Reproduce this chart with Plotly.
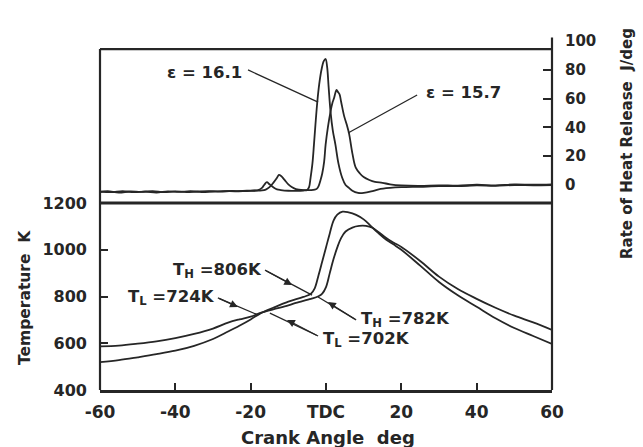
import plotly.graph_objects as go

# ---------------- data ----------------
# Rate of heat release (J/deg), eps = 16.1
hr_angle_161 = [-60, -57, -54, -51, -48, -45, -42, -39, -36, -33, -30, -27, -24, -21, -19, -18, -17,
                -16.3, -15.7, -15, -14, -13, -12, -10, -8, -6, -5, -4.5, -4.1, -3.6, -3.2, -2.8,
                -2.3, -1.8, -1.2, -0.6, -0.1, 0.3, 0.7, 1.2, 1.8, 2.5, 3.3, 4.3, 5.2, 6.1, 7, 8.5,
                10, 12, 14, 17, 20, 25, 30, 35, 40, 45, 50, 55, 60]
hr_161 = [-4.5, -5, -4.2, -5, -4.6, -5.2, -4.4, -4.8, -4.3, -4.9, -4.5, -4.2, -4.4, -4, -3.8, -3.5, -2,
          0.5, 2, 0.5, -1.5, -3, -3.5, -4, -4, -3.8, -3.5, -1.5, 5, 15, 28, 42,
          58, 70, 80, 86, 87.5, 82, 68, 51, 38, 28, 15, 5, 0, -2, -4, -5.5,
          -5.5, -4.5, -3, -2, -1.5, -1.2, -0.8, -0.8, -0.3, -0.6, 0, -0.2, 0]

# Rate of heat release (J/deg), eps = 15.7
hr_angle_157 = [-60, -58, -55, -52, -49, -46, -43, -40, -37, -34, -31, -28, -25, -22, -19, -17, -16,
                -15, -14, -13, -12.5, -12, -11, -10, -9, -8, -6, -4, -3, -2.4, -2, -1.5, -1, -0.5,
                -0.1, 0.5, 1.2, 1.7, 2.1, 2.5, 2.8, 3.2, 3.6, 4, 4.8, 5.5, 6.1, 7, 7.9, 9, 10,
                11.5, 13, 15, 17, 20, 25, 30, 35, 40, 45, 50, 55, 60]
hr_157 = [-5, -4.3, -5.2, -4.5, -4.8, -4.2, -5, -4.4, -4.9, -4.5, -4.3, -4.6, -4.1, -4.3, -4, -3.8, -3.2,
          -1.5, 1.5, 5, 7, 6.5, 3.5, 0.5, -1.5, -2.8, -3.5, -3.5, -3.2, -2.5, -1, 3, 8, 16,
          28, 40, 51, 57, 60, 64, 66, 64.5, 63, 58, 48, 42, 36, 22, 12, 8, 5.5,
          3.5, 2.2, 1.5, 0.5, -0.3, -0.6, -0.2, -0.5, 0.2, -0.3, 0.4, 0.2, 0.5]

# Temperature (K), eps = 16.1
t_angle_161 = [-60, -55, -50, -45, -40, -35, -30, -26, -23, -20, -17.4, -14, -10, -6, -4, -3, -2, -1,
               0, 1, 2, 3, 4.4, 6, 8, 10, 12, 14, 16, 18, 20, 25, 30, 35, 40, 45, 50, 55, 60]
temp_161 = [519, 528, 540, 553, 568, 589, 618, 650, 675, 702, 728, 752, 778, 798, 812, 835, 890, 950,
            1010, 1070, 1125, 1150, 1163, 1160, 1149, 1130, 1100, 1070, 1043, 1022, 1000, 932, 862,
            805, 756, 707, 665, 631, 597]

# Temperature (K), eps = 15.7
t_angle_157 = [-60, -55, -50, -45, -40, -35, -30, -26, -23, -20, -17.4, -14, -10, -8, -4, -2, -1,
               0, 1, 2, 3, 4, 5.2, 7, 8.8, 10.6, 12.3, 14, 16, 18, 20, 25, 30, 35, 40, 45, 50, 55, 60]
temp_157 = [587, 590, 598, 608, 622, 640, 663, 688, 702, 714, 730, 745, 762, 773, 790, 801, 812,
            840, 900, 960, 1010, 1050, 1078, 1095, 1102, 1102, 1094, 1075, 1050, 1030, 1012, 952, 885,
            832, 790, 752, 718, 689, 657]

x_tickvals = [-60, -40, -20, 0, 20, 40, 60]
x_ticktext = ["-60", "-40", "-20", "TDC", "20", "40", "60"]
t_tickvals = [400, 600, 800, 1000, 1200]
hr_tickvals = [0, 20, 40, 60, 80, 100]

# ---------------- figure ----------------
INK = "#262626"
FONT = "DejaVu Sans"
line_style = dict(color=INK, width=1.8)

fig = go.Figure()
fig.add_trace(go.Scatter(x=hr_angle_161, y=hr_161, mode="lines", line=line_style,
                         line_shape="spline", xaxis="x2", yaxis="y2", showlegend=False))
fig.add_trace(go.Scatter(x=hr_angle_157, y=hr_157, mode="lines", line=line_style,
                         line_shape="spline", xaxis="x2", yaxis="y2", showlegend=False))
fig.add_trace(go.Scatter(x=t_angle_161, y=temp_161, mode="lines", line=line_style,
                         line_shape="spline", xaxis="x", yaxis="y", showlegend=False))
fig.add_trace(go.Scatter(x=t_angle_157, y=temp_157, mode="lines", line=line_style,
                         line_shape="spline", xaxis="x", yaxis="y", showlegend=False))

split = 0.5358
frame_top = 94.4

fig.update_layout(
    width=643, height=447,
    margin=dict(l=100, r=91, t=41, b=57),
    paper_bgcolor="white", plot_bgcolor="white",
    font=dict(family=FONT, color=INK, size=15, weight="bold"),
    xaxis=dict(domain=[0, 1], anchor="y", range=[-60, 60], tickvals=x_tickvals, ticktext=x_ticktext,
               ticks="inside", ticklen=7, tickwidth=1.5, tickcolor=INK, showgrid=False, zeroline=False,
               showline=True, linewidth=2.5, linecolor=INK,
               tickfont=dict(size=17, family=FONT, weight="bold"), ticklabelstandoff=5),
    yaxis=dict(domain=[0, split], anchor="x", range=[400, 1200], tickvals=t_tickvals,
               ticks="inside", ticklen=8, tickwidth=1.5, tickcolor=INK, showgrid=False, zeroline=False,
               showline=False, tickfont=dict(size=16, family=FONT, weight="bold"), ticklabelstandoff=12),
    xaxis2=dict(domain=[0, 1], anchor="y2", range=[-60, 60], showticklabels=False, ticks="",
                showgrid=False, zeroline=False, showline=False),
    yaxis2=dict(domain=[split, 1], anchor="x2", side="right", range=[-12.5, 100], tickvals=hr_tickvals,
                ticks="inside", ticklen=9, tickwidth=1.5, tickcolor=INK, showgrid=False, zeroline=False,
                showline=False, tickfont=dict(size=15, family=FONT, weight="bold"), ticklabelstandoff=12),
)

# frame lines
shapes = [
    dict(type="line", xref="paper", yref="y2", x0=0, x1=1, y0=frame_top, y1=frame_top,
         line=dict(color=INK, width=2.2)),
    dict(type="line", xref="paper", yref="paper", x0=0, x1=1, y0=split, y1=split,
         line=dict(color=INK, width=2.8)),
    dict(type="line", xref="paper", yref="paper", x0=0, x1=0, y0=0, y1=(390 - 49) / 349,
         line=dict(color=INK, width=2.2)),
    dict(type="line", xref="paper", yref="paper", x0=1, x1=1, y0=0, y1=1.01,
         line=dict(color=INK, width=2.2)),
    # leader lines for heat-release labels
    dict(type="line", xref="x2", yref="y2", x0=-20.7, y0=79.9, x1=-2.1, y1=57.6,
         line=dict(color=INK, width=1.3)),
    dict(type="line", xref="x2", yref="y2", x0=24.2, y0=62.5, x1=5.85, y1=36.1,
         line=dict(color=INK, width=1.3)),
]

def label(text, x, y, size=15, xref="paper", yref="paper", angle=0):
    return dict(text=text, xref=xref, yref=yref, x=x, y=y, textangle=angle, showarrow=False,
                xanchor="center", yanchor="middle",
                font=dict(size=size, family=FONT, weight="bold", color=INK))

annotations = [
    label("ε = 16.1", -32.3, 77.8, size=16.5, xref="x2", yref="y2"),
    label("ε = 15.7", 36.5, 63.9, size=16.5, xref="x2", yref="y2"),
    label("Temperature  K", (25 - 100) / 452, (390 - 298) / 349, size=15.5, angle=-90),
    label("Rate of Heat Release  J/deg", (627 - 100) / 452, (390 - 144) / 349, angle=-90),
    label("Crank Angle  deg", (328 - 100) / 452, (390 - 437) / 349, size=18),
]

# temperature labels: (text, text x, text y, line start, arrowhead, line end)
temp_labels = [
    ("T<sub>H</sub> =806K", -28.9, 913, (-16.2, 913), (-9.0, 849), (-3.7, 806)),
    ("T<sub>L</sub> =724K", -41.1, 794, (-28.7, 794), (-23.4, 755), (-18.05, 721)),
    ("T<sub>H</sub> =782K", 21.2, 700, (8.0, 700), (0.53, 776), (-2.1, 798)),
    ("T<sub>L</sub> =702K", 10.8, 614, (-2.1, 631), (-10.35, 700), (-14.9, 729)),
]
for text, tx, ty, p0, pm, p1 in temp_labels:
    annotations.append(label(text, tx, ty, size=16.5, xref="x", yref="y"))
    shapes.append(dict(type="line", xref="x", yref="y", x0=p0[0], y0=p0[1], x1=p1[0], y1=p1[1],
                       line=dict(color=INK, width=1.3)))
    annotations.append(dict(text="", xref="x", yref="y", x=pm[0], y=pm[1], axref="x", ayref="y",
                            ax=p0[0], ay=p0[1], showarrow=True, arrowhead=2, arrowsize=1.3,
                            arrowwidth=1.2, arrowcolor=INK))

fig.update_layout(shapes=shapes, annotations=annotations)
fig.write_html("out.html")
